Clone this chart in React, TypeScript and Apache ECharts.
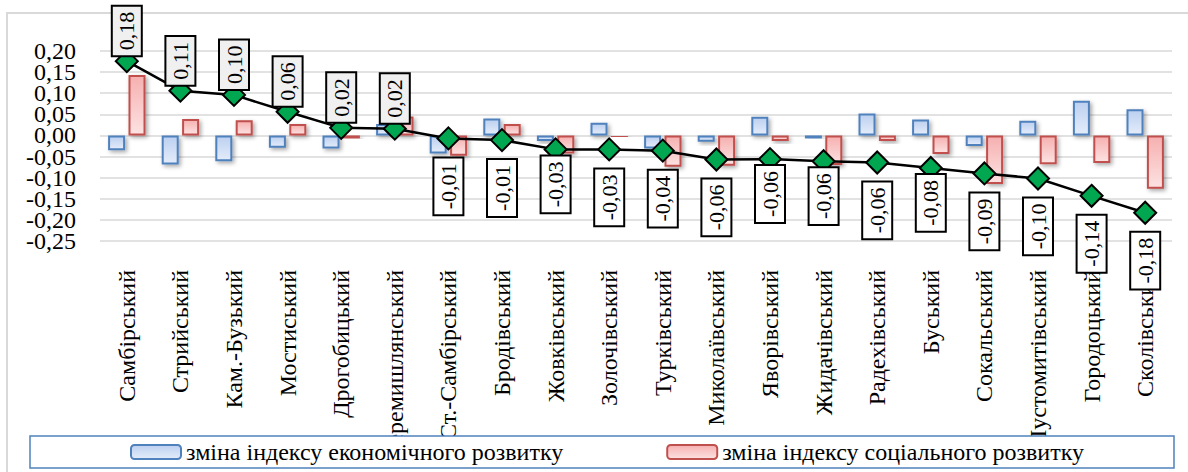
import React, { useEffect, useRef } from "react";
import * as echarts from "echarts";

const categories = [
  "Самбірський", "Стрийський", "Кам.-Бузький", "Мостиський", "Дрогобицький",
  "Перемишлянський", "Ст.-Самбірський", "Бродівський", "Жовківський", "Золочівський",
  "Турківський", "Миколаївський", "Яворівський", "Жидачівський", "Радехівський",
  "Буський", "Сокальський", "Пустомитівський", "Городоцький", "Сколівський",
];

const economic = [
  -0.035, -0.069, -0.061, -0.029, -0.031, 0.027, -0.043, 0.040, -0.013, 0.030,
  -0.031, -0.015, 0.044, -0.007, 0.052, 0.038, -0.025, 0.035, 0.082, 0.062,
];

const social = [
  0.143, 0.039, 0.036, 0.027, -0.007, 0.045, -0.048, 0.027, -0.043, -0.005,
  -0.074, -0.072, -0.013, -0.070, -0.013, -0.044, -0.115, -0.068, -0.065, -0.126,
];

const integral = [
  0.176, 0.106, 0.096, 0.056, 0.018, 0.016, -0.007, -0.011, -0.033, -0.033,
  -0.036, -0.057, -0.056, -0.061, -0.064, -0.077, -0.090, -0.102, -0.143, -0.183,
];

const yTicks = { min: -0.25, max: 0.2, step: 0.05 };
const yTickLabels = [
  "-0,25", "-0,20", "-0,15", "-0,10", "-0,05", "0,00", "0,05", "0,10", "0,15", "0,20",
];

const seriesNames = [
  "зміна індексу економічного розвитку",
  "зміна індексу соціального розвитку",
];

// indices whose negative labels sit closer to the marker
const closeLabels = [8, 12, 13, 15];

const FONT = "Liberation Serif";
const fmt = (v: number) => v.toFixed(2).replace(".", ",");

export default function App() {
  const ref = useRef<HTMLDivElement>(null);
  useEffect(() => {
    if (!ref.current) return;
    const chart = echarts.init(ref.current, undefined, { renderer: "svg" });

    const baseLabel = {
      show: true,
      rotate: 90,
      fontFamily: FONT,
      fontSize: 22,
      color: "#000",
      borderColor: "#000",
      borderWidth: 2,
      padding: [3, 5, 3, 5],
      verticalAlign: "middle",
      formatter: (p: any) => fmt(p.value),
    };

    const lineData = integral.map((v, i) => {
      if (v >= 0) {
        return {
          value: v,
          label: {
            ...baseLabel,
            position: "top",
            distance: -11,
            align: "left",
            offset: [5, 0],
            backgroundColor: "#f0f0f0",
          },
        };
      }
      return {
        value: v,
        label: {
          ...baseLabel,
          position: "bottom",
          distance: closeLabels.includes(i) ? -5 : 8,
          align: "right",
          backgroundColor: "#ffffff",
        },
      };
    });

    const barShadow = {
      shadowColor: "rgba(0,0,0,0.35)",
      shadowBlur: 4,
      shadowOffsetX: 2,
      shadowOffsetY: 2,
    };

    chart.setOption({
      animation: false,
      backgroundColor: "#fff",
      textStyle: { fontFamily: FONT },
      grid: { left: 100, right: 16, top: 51, bottom: 231, containLabel: false },
      graphic: [
        {
          type: "rect",
          z: -10,
          shape: { x: 7, y: 13, width: 1200, height: 500 },
          style: { fill: "none", stroke: "#d9d9d9", lineWidth: 2 },
        },
      ],
      legend: {
        data: seriesNames,
        left: 30,
        top: 436,
        padding: [3, 90, 3, 100],
        itemGap: 103,
        itemWidth: 50,
        itemHeight: 14,
        backgroundColor: "#fff",
        borderColor: "#4f81bd",
        borderWidth: 1.5,
        borderRadius: 0,
        z: 10,
        textStyle: { fontFamily: FONT, fontSize: 24, color: "#000", lineHeight: 26 },
      },
      xAxis: {
        type: "category",
        data: categories,
        axisLine: { show: false },
        axisTick: { show: false },
        axisLabel: {
          interval: 0,
          rotate: 90,
          margin: 29,
          fontFamily: FONT,
          fontSize: 24,
          lineHeight: 24,
          color: "#000",
        },
      },
      yAxis: [
        {
          type: "value",
          min: yTicks.min,
          max: yTicks.max,
          interval: yTicks.step,
          axisLine: { show: false },
          axisTick: { show: false },
          axisLabel: { show: false },
          splitLine: { lineStyle: { color: "#d9d9d9", width: 1.5 } },
        },
        {
          type: "category",
          data: yTickLabels,
          position: "left",
          boundaryGap: false,
          axisLine: { show: false },
          axisTick: { show: false },
          splitLine: { show: false },
          axisLabel: {
            interval: 0,
            hideOverlap: false,
            margin: 24,
            fontFamily: FONT,
            fontSize: 24,
            lineHeight: 19,
            color: "#000",
          },
        },
      ],
      series: [
        {
          name: seriesNames[0],
          type: "bar",
          data: economic,
          barWidth: 17,
          barGap: "20%",
          itemStyle: {
            color: new echarts.graphic.LinearGradient(0, 0, 0, 1, [
              { offset: 0, color: "#bcd0f0" },
              { offset: 1, color: "#e4ecfa" },
            ]),
            borderColor: "#4f81bd",
            borderWidth: 2,
            ...barShadow,
          },
        },
        {
          name: seriesNames[1],
          type: "bar",
          data: social,
          barWidth: 17,
          barGap: "20%",
          itemStyle: {
            color: new echarts.graphic.LinearGradient(0, 0, 0, 1, [
              { offset: 0, color: "#f6b0b0" },
              { offset: 1, color: "#fde2e2" },
            ]),
            borderColor: "#c0504d",
            borderWidth: 2,
            ...barShadow,
          },
        },
        {
          name: "integral",
          type: "line",
          data: lineData,
          z: 5,
          symbol: "diamond",
          symbolSize: 22,
          lineStyle: { color: "#000", width: 2.5 },
          itemStyle: { color: "#00a650", borderColor: "#000", borderWidth: 2 },
        },
      ],
    });
    return () => chart.dispose();
  }, []);
  return (
    <div
      ref={ref}
      style={{ position: "fixed", left: 0, top: 0, width: 1188, height: 472 }}
    />
  );
}
